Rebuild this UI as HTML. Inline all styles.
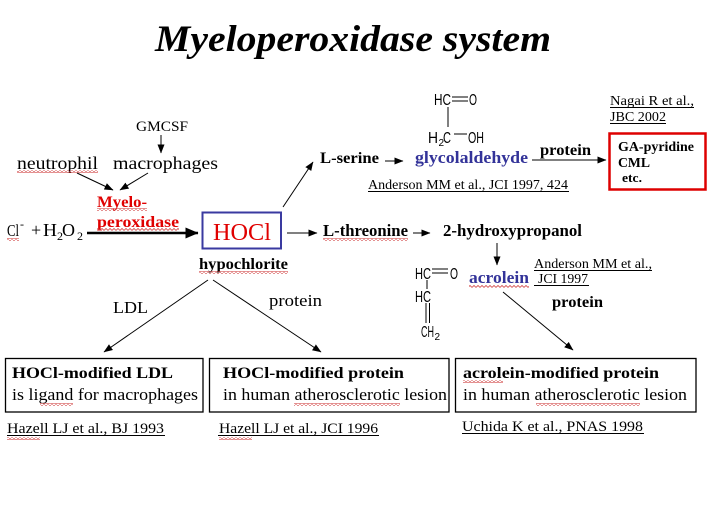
<!DOCTYPE html>
<html><head><meta charset="utf-8"><style>
html,body{margin:0;padding:0;background:#fff;}
svg{display:block;}
.s{font-family:"Liberation Serif",serif;}
.a{font-family:"Liberation Sans",sans-serif;}
</style></head><body>
<svg width="715" height="520" viewBox="0 0 715 520" xmlns="http://www.w3.org/2000/svg">
<defs>
<marker id="ah" markerWidth="9" markerHeight="7" refX="8.5" refY="3.5" orient="auto" markerUnits="userSpaceOnUse"><path d="M0,0 L9,3.5 L0,7 z" fill="#000"/></marker>
<marker id="bh" markerWidth="13" markerHeight="11" refX="12.5" refY="5.5" orient="auto" markerUnits="userSpaceOnUse"><path d="M0,0 L13,5.5 L0,11 z" fill="#000"/></marker>
<pattern id="wv" width="4" height="3" patternUnits="userSpaceOnUse"><path d="M0,2.5 L2,0.5 L4,2.5" fill="none" stroke="#d04040" stroke-width="0.8"/></pattern>
</defs>
<rect width="715" height="520" fill="#fff"/>

<!-- Title -->
<text class="s" x="155" y="51" font-size="37" font-weight="bold" font-style="italic" textLength="396" lengthAdjust="spacingAndGlyphs">Myeloperoxidase system</text>

<!-- left part -->
<text class="s" x="136" y="131" font-size="15" textLength="52" lengthAdjust="spacingAndGlyphs">GMCSF</text>
<text class="s" x="17" y="169" font-size="18" textLength="81" lengthAdjust="spacingAndGlyphs">neutrophil</text>
<text class="s" x="113" y="169" font-size="18" textLength="105" lengthAdjust="spacingAndGlyphs">macrophages</text>
<text class="s" x="97" y="207" font-size="16" font-weight="bold" fill="#e00000" textLength="50" lengthAdjust="spacingAndGlyphs">Myelo-</text>
<text class="s" x="97" y="227" font-size="16" font-weight="bold" fill="#e00000" textLength="82" lengthAdjust="spacingAndGlyphs">peroxidase</text>

<text class="s" x="7" y="236" font-size="17" textLength="12" lengthAdjust="spacingAndGlyphs">Cl</text>
<text class="s" x="20" y="228" font-size="12">-</text>
<text class="s" x="31" y="236" font-size="18">+</text>
<text class="s" x="43" y="236" font-size="18" textLength="14" lengthAdjust="spacingAndGlyphs">H</text>
<text class="s" x="57" y="240" font-size="12">2</text>
<text class="s" x="62" y="236" font-size="18" textLength="13" lengthAdjust="spacingAndGlyphs">O</text>
<text class="s" x="77" y="240" font-size="12">2</text>

<line x1="161" y1="135" x2="161" y2="153" stroke="#000" stroke-width="1" marker-end="url(#ah)"/>
<line x1="77" y1="173" x2="113" y2="190" stroke="#000" stroke-width="1" marker-end="url(#ah)"/>
<line x1="148" y1="173" x2="120" y2="190" stroke="#000" stroke-width="1" marker-end="url(#ah)"/>
<line x1="87" y1="233" x2="198" y2="233" stroke="#000" stroke-width="2.5" marker-end="url(#bh)"/>

<!-- HOCl -->
<rect x="202.5" y="212.5" width="78.5" height="36" fill="none" stroke="#3a3aa0" stroke-width="2"/>
<text class="s" x="213" y="240" font-size="24" fill="#e00000" textLength="58" lengthAdjust="spacingAndGlyphs">HOCl</text>
<text class="s" x="199" y="269" font-size="16" font-weight="bold" textLength="89" lengthAdjust="spacingAndGlyphs">hypochlorite</text>

<line x1="283" y1="207" x2="313" y2="162" stroke="#000" stroke-width="1" marker-end="url(#ah)"/>
<line x1="287" y1="233" x2="317" y2="233" stroke="#000" stroke-width="1" marker-end="url(#ah)"/>

<!-- L-serine branch -->
<text class="s" x="320" y="163" font-size="16" font-weight="bold" textLength="59" lengthAdjust="spacingAndGlyphs">L-serine</text>
<line x1="385" y1="161" x2="403" y2="161" stroke="#000" stroke-width="1" marker-end="url(#ah)"/>
<text class="s" x="415" y="163" font-size="17" font-weight="bold" fill="#333399" textLength="113" lengthAdjust="spacingAndGlyphs">glycolaldehyde</text>

<text class="a" x="434" y="105" font-size="16" textLength="17" lengthAdjust="spacingAndGlyphs">HC</text>
<line x1="452" y1="97" x2="468" y2="97" stroke="#000" stroke-width="1"/>
<line x1="452" y1="101" x2="468" y2="101" stroke="#000" stroke-width="1"/>
<text class="a" x="469" y="105" font-size="16" textLength="8" lengthAdjust="spacingAndGlyphs">O</text>
<line x1="448" y1="107" x2="448" y2="127" stroke="#000" stroke-width="1"/>
<text class="a" x="428" y="143" font-size="16" textLength="10" lengthAdjust="spacingAndGlyphs">H</text>
<text class="a" x="438.5" y="146" font-size="10">2</text>
<text class="a" x="443" y="143" font-size="16" textLength="8" lengthAdjust="spacingAndGlyphs">C</text>
<line x1="454" y1="134" x2="467" y2="134" stroke="#000" stroke-width="1"/>
<text class="a" x="468" y="143" font-size="16" textLength="16" lengthAdjust="spacingAndGlyphs">OH</text>

<text class="s" x="540" y="155" font-size="16" font-weight="bold" textLength="51" lengthAdjust="spacingAndGlyphs">protein</text>
<line x1="532" y1="160" x2="606" y2="160" stroke="#000" stroke-width="1" marker-end="url(#ah)"/>

<rect x="609.5" y="133.5" width="96" height="56" fill="none" stroke="#dd0000" stroke-width="2.5"/>
<text class="s" x="618" y="151" font-size="14" font-weight="bold" textLength="76" lengthAdjust="spacingAndGlyphs">GA-pyridine</text>
<text class="s" x="618" y="167" font-size="14" font-weight="bold" textLength="32" lengthAdjust="spacingAndGlyphs">CML</text>
<text class="s" x="622" y="182" font-size="13" font-weight="bold" textLength="20" lengthAdjust="spacingAndGlyphs">etc.</text>

<text class="s" x="610" y="105" font-size="14" textLength="84" lengthAdjust="spacingAndGlyphs">Nagai R et al.,</text>
<line x1="610" y1="107.5" x2="694" y2="107.5" stroke="#000" stroke-width="1"/>
<text class="s" x="610" y="121" font-size="14" textLength="56" lengthAdjust="spacingAndGlyphs">JBC 2002</text>
<line x1="610" y1="123.5" x2="666" y2="123.5" stroke="#000" stroke-width="1"/>

<text class="s" x="368" y="189" font-size="14" textLength="200" lengthAdjust="spacingAndGlyphs">Anderson MM et al., JCI 1997, 424</text>
<line x1="368" y1="191.5" x2="569" y2="191.5" stroke="#000" stroke-width="1"/>

<!-- L-threonine branch -->
<text class="s" x="323" y="236" font-size="17" font-weight="bold" textLength="85" lengthAdjust="spacingAndGlyphs">L-threonine</text>
<line x1="413" y1="233" x2="430" y2="233" stroke="#000" stroke-width="1" marker-end="url(#ah)"/>
<text class="s" x="443" y="236" font-size="17" font-weight="bold" textLength="139" lengthAdjust="spacingAndGlyphs">2-hydroxypropanol</text>
<line x1="497" y1="243" x2="497" y2="265" stroke="#000" stroke-width="1" marker-end="url(#ah)"/>

<text class="a" x="415" y="279" font-size="16" textLength="16" lengthAdjust="spacingAndGlyphs">HC</text>
<line x1="432" y1="269" x2="448" y2="269" stroke="#000" stroke-width="1"/>
<line x1="432" y1="273" x2="448" y2="273" stroke="#000" stroke-width="1"/>
<text class="a" x="450" y="279" font-size="16" textLength="8" lengthAdjust="spacingAndGlyphs">O</text>
<line x1="427" y1="280" x2="427" y2="289" stroke="#000" stroke-width="1"/>
<text class="a" x="415" y="302" font-size="16" textLength="16" lengthAdjust="spacingAndGlyphs">HC</text>
<line x1="426" y1="303" x2="426" y2="323" stroke="#000" stroke-width="1"/>
<line x1="429.5" y1="303" x2="429.5" y2="323" stroke="#000" stroke-width="1"/>
<text class="a" x="421" y="337" font-size="16" textLength="13" lengthAdjust="spacingAndGlyphs">CH</text>
<text class="a" x="434.5" y="340" font-size="10">2</text>

<text class="s" x="469" y="283" font-size="17" font-weight="bold" fill="#333399" textLength="60" lengthAdjust="spacingAndGlyphs">acrolein</text>
<text class="s" x="534" y="268" font-size="14" textLength="118" lengthAdjust="spacingAndGlyphs">Anderson MM et al.,</text>
<line x1="534" y1="270.5" x2="652" y2="270.5" stroke="#000" stroke-width="1"/>
<text class="s" x="538" y="283" font-size="14" textLength="50" lengthAdjust="spacingAndGlyphs">JCI 1997</text>
<line x1="534" y1="285.5" x2="589" y2="285.5" stroke="#000" stroke-width="1"/>
<text class="s" x="552" y="307" font-size="16" font-weight="bold" textLength="51" lengthAdjust="spacingAndGlyphs">protein</text>
<line x1="503" y1="292" x2="573" y2="350" stroke="#000" stroke-width="1" marker-end="url(#ah)"/>

<!-- hypochlorite branches -->
<line x1="208" y1="280" x2="104" y2="352" stroke="#000" stroke-width="1" marker-end="url(#ah)"/>
<line x1="213" y1="280" x2="321" y2="352" stroke="#000" stroke-width="1" marker-end="url(#ah)"/>
<text class="s" x="113" y="313" font-size="17" textLength="35" lengthAdjust="spacingAndGlyphs">LDL</text>
<text class="s" x="269" y="306" font-size="17" textLength="53" lengthAdjust="spacingAndGlyphs">protein</text>

<!-- bottom boxes -->
<rect x="5.5" y="358.5" width="197.5" height="53.5" fill="none" stroke="#000" stroke-width="1.3"/>
<rect x="209.5" y="358.5" width="239.5" height="53.5" fill="none" stroke="#000" stroke-width="1.3"/>
<rect x="455.5" y="358.5" width="240.5" height="53.5" fill="none" stroke="#000" stroke-width="1.3"/>

<text class="s" x="12" y="378" font-size="16" font-weight="bold" textLength="161" lengthAdjust="spacingAndGlyphs">HOCl-modified LDL</text>
<text class="s" x="12" y="400" font-size="17" textLength="186" lengthAdjust="spacingAndGlyphs">is ligand for macrophages</text>
<text class="s" x="223" y="378" font-size="16" font-weight="bold" textLength="181" lengthAdjust="spacingAndGlyphs">HOCl-modified protein</text>
<text class="s" x="223" y="400" font-size="17" textLength="224" lengthAdjust="spacingAndGlyphs">in human atherosclerotic lesion</text>
<text class="s" x="463" y="378" font-size="16" font-weight="bold" textLength="196" lengthAdjust="spacingAndGlyphs">acrolein-modified protein</text>
<text class="s" x="463" y="400" font-size="17" textLength="224" lengthAdjust="spacingAndGlyphs">in human atherosclerotic lesion</text>

<text class="s" x="7" y="433" font-size="15" textLength="157" lengthAdjust="spacingAndGlyphs">Hazell LJ et al., BJ 1993</text>
<line x1="7" y1="435.5" x2="165" y2="435.5" stroke="#000" stroke-width="1"/>
<text class="s" x="219" y="433" font-size="15" textLength="159" lengthAdjust="spacingAndGlyphs">Hazell LJ et al., JCI 1996</text>
<line x1="218" y1="435.5" x2="379" y2="435.5" stroke="#000" stroke-width="1"/>
<text class="s" x="462" y="431" font-size="15" textLength="181" lengthAdjust="spacingAndGlyphs">Uchida K et al., PNAS 1998</text>
<line x1="462" y1="433.5" x2="644" y2="433.5" stroke="#000" stroke-width="1"/>

<!-- spellcheck wavy underlines -->
<rect x="17" y="170" width="81" height="3" fill="url(#wv)"/>
<rect x="97" y="208" width="50" height="3" fill="url(#wv)"/>
<rect x="97" y="228" width="82" height="3" fill="url(#wv)"/>
<rect x="7" y="238" width="12" height="3" fill="url(#wv)"/>
<rect x="199" y="271" width="89" height="3" fill="url(#wv)"/>
<rect x="323" y="238" width="85" height="3" fill="url(#wv)"/>
<rect x="469" y="285" width="60" height="3" fill="url(#wv)"/>
<rect x="40" y="403" width="33" height="3" fill="url(#wv)"/>
<rect x="294" y="403" width="106" height="3" fill="url(#wv)"/>
<rect x="536" y="403" width="104" height="3" fill="url(#wv)"/>
<rect x="463" y="380" width="40" height="3" fill="url(#wv)"/>
<rect x="7" y="437" width="33" height="3" fill="url(#wv)"/>
<rect x="219" y="437" width="33" height="3" fill="url(#wv)"/>
</svg>
</body></html>
